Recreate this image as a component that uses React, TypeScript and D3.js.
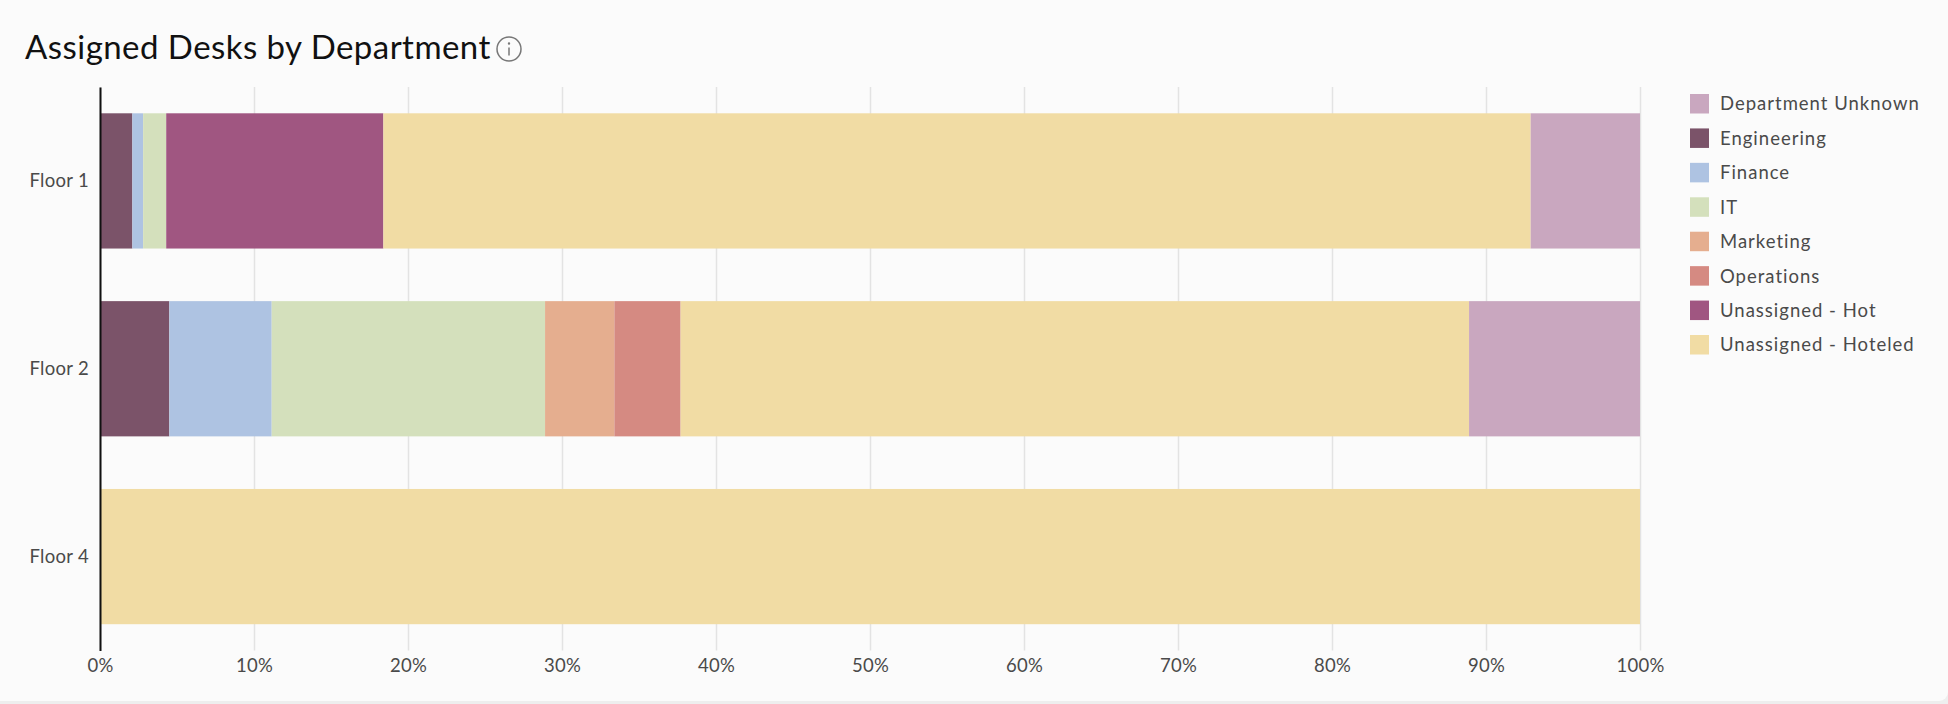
import React, { useEffect, useRef } from 'react';
import * as d3 from 'd3';

const floors = ['Floor 1', 'Floor 2', 'Floor 4'];
const departments = ['Department Unknown', 'Engineering', 'Finance', 'IT', 'Marketing', 'Operations', 'Unassigned - Hot', 'Unassigned - Hoteled'];
const stackOrder = ['Engineering', 'Finance', 'IT', 'Marketing', 'Operations', 'Unassigned - Hot', 'Unassigned - Hoteled', 'Department Unknown'];
const colors = ['#c9a7bf', '#7b5369', '#aec3e2', '#d4e0bc', '#e5ae8f', '#d58a82', '#a05681', '#f1dca4'];
const xTicks = [0, 10, 20, 30, 40, 50, 60, 70, 80, 90, 100];

// percent of desks on each floor, in floors order
const departmentUnknown = [7.1, 11.1, 0];
const engineering = [2.1, 4.5, 0];
const finance = [0.7, 6.65, 0];
const it = [1.5, 17.75, 0];
const marketing = [0, 4.5, 0];
const operations = [0, 4.3, 0];
const unassignedHot = [14.1, 0, 0];
const unassignedHoteled = [74.5, 51.2, 100];

const seriesValues: Record<string, number[]> = {
  'Department Unknown': departmentUnknown,
  'Engineering': engineering,
  'Finance': finance,
  'IT': it,
  'Marketing': marketing,
  'Operations': operations,
  'Unassigned - Hot': unassignedHot,
  'Unassigned - Hoteled': unassignedHoteled,
};

const FONT = 'Lato, sans-serif';
const WIDTH = 1948;
const HEIGHT = 704;

const App = () => {
  const svgRef = useRef<SVGSVGElement | null>(null);

  useEffect(() => {
    if (!svgRef.current) return;
    const svg = d3.select(svgRef.current);
    svg.selectAll('*').remove();

    // Card
    svg.append('rect').attr('width', WIDTH).attr('height', HEIGHT).attr('fill', '#eeeeee');
    svg.append('rect').attr('x', -10).attr('y', -10).attr('width', WIDTH + 10).attr('height', 711)
      .attr('rx', 9).attr('fill', '#fbfbfb');

    // Title
    svg.append('text')
      .attr('x', 25).attr('y', 59)
      .attr('font-family', FONT).attr('font-size', 33)
      .attr('letter-spacing', 0.45)
      .attr('fill', '#111111')
      .text('Assigned Desks by Department');

    // Info icon
    const info = svg.append('g').attr('transform', 'translate(509, 49)');
    info.append('circle').attr('r', 12).attr('fill', 'none').attr('stroke', '#777777').attr('stroke-width', 1.5);
    info.append('circle').attr('cy', -5.5).attr('r', 1.2).attr('fill', '#777777');
    info.append('line').attr('y1', -1.5).attr('y2', 6.5).attr('stroke', '#777777').attr('stroke-width', 1.5);

    const xScale = d3.scaleLinear().domain([0, 100]).range([100, 1640]);
    const yScale = d3.scaleBand().domain(floors).range([87, 650.5]).paddingInner(0.28).paddingOuter(0.14);

    // Grid lines and x labels
    const xAxis = d3.axisBottom(xScale)
      .tickValues(xTicks)
      .tickSize(563.5)
      .tickPadding(8)
      .tickFormat(d => `${d}%`);

    const xAxisGroup = svg.append('g')
      .attr('transform', 'translate(0, 87)')
      .call(xAxis as any);
    xAxisGroup.select('.domain').remove();
    xAxisGroup.selectAll('line').attr('stroke', '#e3e3e3').attr('stroke-width', 1.5);
    xAxisGroup.selectAll('text')
      .attr('font-family', FONT).attr('font-size', 18.5).attr('letter-spacing', 0.3)
      .attr('fill', '#4a4a4a');

    // Stacked bars
    const rows = floors.map((floor, i) => {
      const row: Record<string, any> = { floor };
      stackOrder.forEach(d => { row[d] = seriesValues[d][i]; });
      return row;
    });
    const stacked = d3.stack<any>().keys(stackOrder)(rows);
    const color = d3.scaleOrdinal<string, string>().domain(departments).range(colors);

    svg.append('g')
      .selectAll('g')
      .data(stacked)
      .enter()
      .append('g')
      .attr('fill', d => color(d.key))
      .selectAll('rect')
      .data(d => d.filter(v => v[1] > v[0]))
      .enter()
      .append('rect')
      .attr('x', d => xScale(d[0]))
      .attr('y', d => yScale(d.data.floor) as number)
      .attr('width', d => xScale(d[1]) - xScale(d[0]))
      .attr('height', yScale.bandwidth());

    // Y axis
    const yAxis = d3.axisLeft(yScale).tickSize(0).tickPadding(11);
    const yAxisGroup = svg.append('g')
      .attr('transform', 'translate(100, 0)')
      .call(yAxis as any);
    yAxisGroup.select('.domain').attr('stroke', '#111111').attr('stroke-width', 2);
    yAxisGroup.selectAll('text')
      .attr('font-family', FONT).attr('font-size', 18.5).attr('letter-spacing', 0.3)
      .attr('fill', '#4a4a4a');

    // Legend
    const legendY = d3.scalePoint().domain(departments).range([104, 345]);
    const legend = svg.append('g')
      .selectAll('g')
      .data(departments)
      .enter()
      .append('g')
      .attr('transform', d => `translate(1690, ${legendY(d)})`);
    legend.append('rect')
      .attr('y', -10).attr('width', 19).attr('height', 19.5)
      .attr('fill', d => color(d));
    legend.append('text')
      .attr('x', 30).attr('dy', '0.35em')
      .attr('font-family', FONT).attr('font-size', 18.5).attr('letter-spacing', 1.0)
      .attr('fill', '#4a4a4a')
      .text(d => d);
  }, []);

  return (
    <svg
      ref={svgRef}
      width={WIDTH}
      height={HEIGHT}
      style={{ position: 'absolute', left: 0, top: 0, display: 'block' }}
    ></svg>
  );
};

export default App;
